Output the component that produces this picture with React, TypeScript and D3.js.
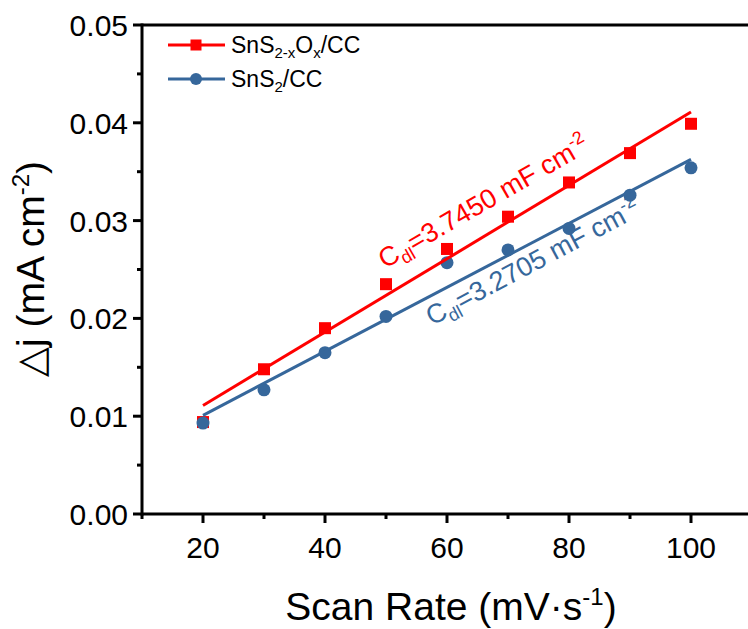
import React from "react";
import * as d3 from "d3";

const scanRates = [20, 30, 40, 50, 60, 70, 80, 90, 100];
const snsoValues = [0.0094, 0.0148, 0.019, 0.0235, 0.0271, 0.0304, 0.0339, 0.0369, 0.0399];
const snsValues = [0.0093, 0.0127, 0.0165, 0.0202, 0.0257, 0.027, 0.0292, 0.0326, 0.0354];
const xMajorTicks = [20, 40, 60, 80, 100];
const xMinorTicks = [10, 30, 50, 70, 90, 110];
const yMajorTicks = [0, 0.01, 0.02, 0.03, 0.04, 0.05];
const yMinorTicks = [0.005, 0.015, 0.025, 0.035, 0.045];

const RED = "#ff0000";
const BLUE = "#36679b";
const FONT = "'Liberation Sans', Arial, sans-serif";

function fit(xs: number[], ys: number[]) {
  const mx = d3.mean(xs)!;
  const my = d3.mean(ys)!;
  let num = 0, den = 0;
  xs.forEach((x, i) => { num += (x - mx) * (ys[i] - my); den += (x - mx) ** 2; });
  const b = num / den;
  const a = my - b * mx;
  return (x: number) => a + b * x;
}

export default function App() {
  const x = d3.scaleLinear().domain([10, 110]).range([142, 752]);
  const y = d3.scaleLinear().domain([0, 0.05]).range([514, 25]);
  const fRed = fit(scanRates, snsoValues);
  const fBlue = fit(scanRates, snsValues);
  const x0 = scanRates[0], x1 = scanRates[scanRates.length - 1];
  const line = d3.line<number[]>().x(d => x(d[0])).y(d => y(d[1]));
  const redLine = line([[x0, fRed(x0)], [x1, fRed(x1)]])!;
  const blueLine = line([[x0, fBlue(x0)], [x1, fBlue(x1)]])!;
  const sq = 12;

  return (
    <svg width={748} height={629} style={{ position: "absolute", left: 0, top: 0 }} fontFamily={FONT}>
      <rect width={748} height={629} fill="#fff" />
      {/* frame */}
      <line x1={x(10)} x2={748} y1={y(0.05)} y2={y(0.05)} stroke="#000" strokeWidth={3} />
      <line x1={x(10)} x2={748} y1={y(0)} y2={y(0)} stroke="#000" strokeWidth={3} />
      <line x1={x(10)} x2={x(10)} y1={y(0.05) - 1.5} y2={y(0) + 1.5} stroke="#000" strokeWidth={3} />
      {/* x ticks */}
      {xMajorTicks.map(t => (
        <g key={"xm" + t}>
          <line x1={x(t)} x2={x(t)} y1={y(0)} y2={y(0) + 9} stroke="#000" strokeWidth={3} />
          <text x={x(t)} y={y(0) + 44} textAnchor="middle" fontSize={30}>{t}</text>
        </g>
      ))}
      {xMinorTicks.map(t => (
        <line key={"xn" + t} x1={x(t)} x2={x(t)} y1={y(0)} y2={y(0) + 5} stroke="#000" strokeWidth={3} />
      ))}
      {/* y ticks */}
      {yMajorTicks.map(t => (
        <g key={"ym" + t}>
          <line x1={x(10)} x2={x(10) - 9} y1={y(t)} y2={y(t)} stroke="#000" strokeWidth={3} />
          <text x={x(10) - 14} y={y(t) + 11} textAnchor="end" fontSize={30}>{t.toFixed(2)}</text>
        </g>
      ))}
      {yMinorTicks.map(t => (
        <line key={"yn" + t} x1={x(10)} x2={x(10) - 5} y1={y(t)} y2={y(t)} stroke="#000" strokeWidth={3} />
      ))}
      {/* axis titles */}
      <text x={451} y={620} textAnchor="middle" fontSize={39}>
        Scan Rate (mV·s<tspan dy={-15} fontSize={24}>-1</tspan><tspan dy={15}>)</tspan>
      </text>
      <text transform="translate(44,269) rotate(-90)" textAnchor="middle" fontSize={39}>
        △j (mA cm<tspan dy={-15} fontSize={24}>-2</tspan><tspan dy={15}>)</tspan>
      </text>
      {/* data points */}
      {scanRates.map((s, i) => (
        <rect key={"r" + s} x={x(s) - sq / 2} y={y(snsoValues[i]) - sq / 2} width={sq} height={sq} fill={RED} />
      ))}
      {scanRates.map((s, i) => (
        <circle key={"b" + s} cx={x(s)} cy={y(snsValues[i])} r={6.5} fill={BLUE} />
      ))}
      {/* fits */}
      <path d={redLine} stroke={RED} strokeWidth={3} fill="none" />
      <path d={blueLine} stroke={BLUE} strokeWidth={3} fill="none" />
      {/* annotations */}
      <text transform="translate(385,269) rotate(-30)" fontSize={27} fill={RED}>
        C<tspan dy={6} fontSize={18}>dl</tspan><tspan dy={-6}>=3.7450 mF cm</tspan><tspan dy={-11} fontSize={18}>-2</tspan>
      </text>
      <text transform="translate(432,326) rotate(-28)" fontSize={27} fill={BLUE}>
        C<tspan dy={6} fontSize={18}>dl</tspan><tspan dy={-6}>=3.2705 mF cm</tspan><tspan dy={-11} fontSize={18}>-2</tspan>
      </text>
      {/* legend */}
      <line x1={168} x2={225} y1={45} y2={45} stroke={RED} strokeWidth={3} />
      <rect x={196 - 5.5} y={45 - 5.5} width={11} height={11} fill={RED} />
      <text x={231} y={53} fontSize={23}>
        SnS<tspan dy={5} fontSize={15}>2-x</tspan><tspan dy={-5}>O</tspan><tspan dy={5} fontSize={15}>x</tspan><tspan dy={-5}>/CC</tspan>
      </text>
      <line x1={168} x2={225} y1={79} y2={79} stroke={BLUE} strokeWidth={3} />
      <circle cx={196} cy={79} r={6} fill={BLUE} />
      <text x={231} y={87} fontSize={23}>
        SnS<tspan dy={5} fontSize={15}>2</tspan><tspan dy={-5}>/CC</tspan>
      </text>
    </svg>
  );
}
